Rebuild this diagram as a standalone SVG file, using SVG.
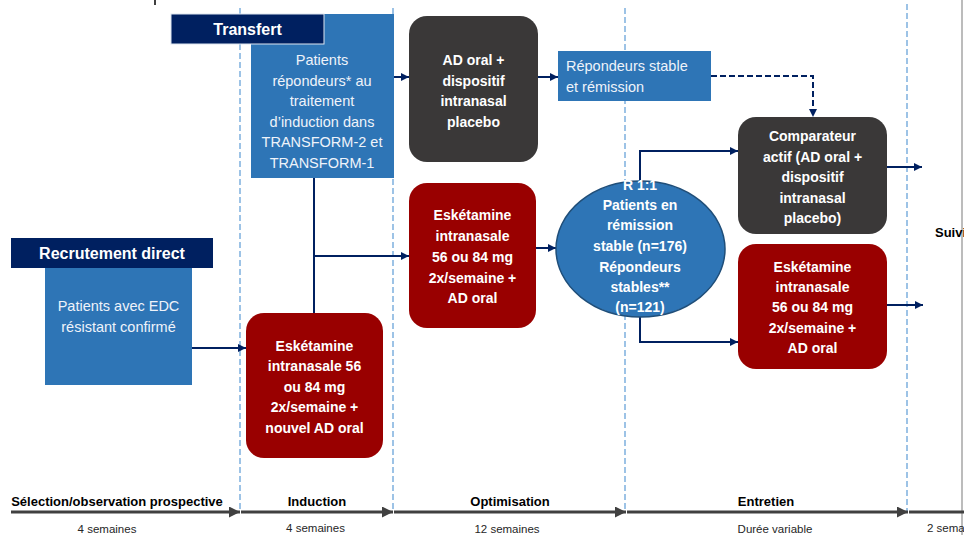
<svg xmlns="http://www.w3.org/2000/svg" width="964" height="535" viewBox="0 0 964 535">
<defs>
<style>
.vd{stroke:#9dc3e6;stroke-width:2;stroke-dasharray:6 3;fill:none}
.blue{fill:#2e75b6}
.navy{fill:#002060}
.red{fill:#990000}
.grey{fill:#3a3838}
.tn{font-family:"Liberation Sans",Arial,sans-serif;font-size:14.5px;fill:#eef3fa}
.tb{font-family:"Liberation Sans",Arial,sans-serif;font-size:14px;font-weight:bold;fill:#ffffff;text-anchor:middle}
.th{font-family:"Liberation Sans",Arial,sans-serif;font-size:16px;font-weight:bold;fill:#ffffff;text-anchor:middle}
.tl{font-family:"Liberation Sans",Arial,sans-serif;font-size:13px;font-weight:bold;fill:#000000;text-anchor:middle}
.ts{font-family:"Liberation Sans",Arial,sans-serif;font-size:11.5px;fill:#262626;text-anchor:middle}
.c{stroke:#002060;stroke-width:2;fill:none}
.tlx{stroke:#404040;stroke-width:3;fill:none}
</style>
<marker id="ah" viewBox="0 0 10 10" refX="10" refY="5" markerWidth="9" markerHeight="8" markerUnits="userSpaceOnUse" orient="auto">
<path d="M0,0 L10,5 L0,10 Z" fill="#002060"/>
</marker>
<marker id="tah" viewBox="0 0 10 10" refX="10" refY="5" markerWidth="11" markerHeight="11" markerUnits="userSpaceOnUse" orient="auto">
<path d="M0,0 L10,5 L0,10 Z" fill="#404040"/>
</marker>
</defs>
<rect width="964" height="535" fill="#ffffff"/>
<line x1="155" y1="0" x2="155" y2="5" stroke="#000" stroke-width="1.5"/>
<line x1="962" y1="0" x2="962" y2="535" stroke="#a6a6a6" stroke-width="1.5"/>

<g id="phase-lines">
<line class="vd" x1="240" y1="8" x2="240" y2="512"/>
<line class="vd" x1="393" y1="8" x2="393" y2="512"/>
<line class="vd" x1="625" y1="8" x2="625" y2="512"/>
<line class="vd" x1="907" y1="4" x2="907" y2="512"/>
</g>

<g id="connectors">
<line class="c" x1="394" y1="77" x2="409" y2="77" marker-end="url(#ah)"/>
<line class="c" x1="538" y1="77" x2="558" y2="77" marker-end="url(#ah)"/>
<polyline class="c" points="711,76 813,76 813,117" stroke-dasharray="6 3" marker-end="url(#ah)"/>
<line class="c" x1="314" y1="178" x2="314" y2="313"/>
<line class="c" x1="314" y1="256" x2="409" y2="256" marker-end="url(#ah)"/>
<line class="c" x1="192" y1="348" x2="246" y2="348" marker-end="url(#ah)"/>
<line class="c" x1="536" y1="248" x2="556" y2="248" marker-end="url(#ah)"/>
<polyline class="c" points="640,181 640,151 738,151" marker-end="url(#ah)"/>
<polyline class="c" points="640,317 640,342 738,342" marker-end="url(#ah)"/>
<line class="c" x1="887" y1="167" x2="922" y2="167" marker-end="url(#ah)"/>
<line class="c" x1="887" y1="305" x2="923" y2="305" marker-end="url(#ah)"/>
</g>

<g id="transfert-box">
<rect class="blue" x="251" y="14" width="143" height="164"/>
<text class="tn" text-anchor="middle" x="322" y="65">Patients</text>
<text class="tn" text-anchor="middle" x="322" y="86">répondeurs* au</text>
<text class="tn" text-anchor="middle" x="322" y="106">traitement</text>
<text class="tn" text-anchor="middle" x="322" y="127">d’induction dans</text>
<text class="tn" text-anchor="middle" x="322" y="147">TRANSFORM-2 et</text>
<text class="tn" text-anchor="middle" x="322" y="168">TRANSFORM-1</text>
</g>
<g id="transfert-header">
<rect class="navy" x="171" y="14" width="153" height="30" stroke="#dde6f0" stroke-width="1"/>
<text class="th" x="247.5" y="35">Transfert</text>
</g>

<g id="recrutement-header">
<rect class="navy" x="11" y="238" width="202" height="30"/>
<text class="th" x="112" y="259">Recrutement direct</text>
</g>
<g id="recrutement-box">
<rect class="blue" x="45" y="268" width="147" height="117"/>
<text class="tn" text-anchor="middle" x="118.5" y="311">Patients avec EDC</text>
<text class="tn" text-anchor="middle" x="118.5" y="332">résistant confirmé</text>
</g>

<g id="induction-esketamine">
<rect class="red" x="246" y="313" width="137" height="145" rx="18"/>
<text class="tb" x="314.5" y="351">Eskétamine</text>
<text class="tb" x="314.5" y="371">intranasale 56</text>
<text class="tb" x="314.5" y="392">ou 84 mg</text>
<text class="tb" x="314.5" y="412">2x/semaine +</text>
<text class="tb" x="314.5" y="433">nouvel AD oral</text>
</g>

<g id="ad-oral-placebo">
<rect class="grey" x="409" y="16" width="129" height="146" rx="18"/>
<text class="tb" x="473.5" y="65">AD oral +</text>
<text class="tb" x="473.5" y="85.5">dispositif</text>
<text class="tb" x="473.5" y="106">intranasal</text>
<text class="tb" x="473.5" y="126.5">placebo</text>
</g>

<g id="optim-esketamine">
<rect class="red" x="409" y="183" width="127" height="145" rx="18"/>
<text class="tb" x="472.5" y="220">Eskétamine</text>
<text class="tb" x="472.5" y="241">intranasale</text>
<text class="tb" x="472.5" y="262">56 ou 84 mg</text>
<text class="tb" x="472.5" y="283">2x/semaine +</text>
<text class="tb" x="472.5" y="303">AD oral</text>
</g>

<g id="repondeurs-stable">
<rect class="blue" x="558" y="51" width="153" height="50"/>
<text class="tn" x="566" y="71">Répondeurs stable</text>
<text class="tn" x="566" y="92">et rémission</text>
</g>

<g id="randomisation">
<ellipse cx="640.5" cy="249" rx="84.5" ry="68" fill="#2e75b6" stroke="#1f4e79" stroke-width="1.5"/>
<text class="tb" x="640" y="190">R 1:1</text>
<text class="tb" x="640" y="210">Patients en</text>
<text class="tb" x="640" y="230">rémission</text>
<text class="tb" x="640" y="251">stable (n=176)</text>
<text class="tb" x="640" y="272">Répondeurs</text>
<text class="tb" x="640" y="292">stables**</text>
<text class="tb" x="640" y="312">(n=121)</text>
</g>

<g id="comparateur">
<rect class="grey" x="738" y="117" width="149" height="117" rx="18"/>
<text class="tb" x="812.5" y="141">Comparateur</text>
<text class="tb" x="812.5" y="161.5">actif (AD oral +</text>
<text class="tb" x="812.5" y="182">dispositif</text>
<text class="tb" x="812.5" y="202.5">intranasal</text>
<text class="tb" x="812.5" y="223">placebo)</text>
</g>

<g id="entretien-esketamine">
<rect class="red" x="738" y="244" width="149" height="125" rx="18"/>
<text class="tb" x="812.5" y="272">Eskétamine</text>
<text class="tb" x="812.5" y="292">intranasale</text>
<text class="tb" x="812.5" y="312">56 ou 84 mg</text>
<text class="tb" x="812.5" y="333">2x/semaine +</text>
<text class="tb" x="812.5" y="353">AD oral</text>
</g>

<text class="tl" x="935" y="237" style="text-anchor:start">Suivi</text>

<g id="timeline">
<line class="tlx" x1="11" y1="512" x2="240" y2="512" marker-end="url(#tah)"/>
<line class="tlx" x1="241" y1="512" x2="393" y2="512" marker-end="url(#tah)"/>
<line class="tlx" x1="394" y1="512" x2="626" y2="512" marker-end="url(#tah)"/>
<line class="tlx" x1="627" y1="512" x2="908" y2="512" marker-end="url(#tah)"/>
<line class="tlx" x1="909" y1="512" x2="964" y2="512"/>
<text class="tl" x="117" y="505.5">Sélection/observation prospective</text>
<text class="tl" x="317" y="505.5">Induction</text>
<text class="tl" x="510" y="505.5">Optimisation</text>
<text class="tl" x="766" y="505.5">Entretien</text>
<text class="ts" x="107" y="533">4 semaines</text>
<text class="ts" x="315.5" y="532">4 semaines</text>
<text class="ts" x="507" y="533">12 semaines</text>
<text class="ts" x="775" y="533">Durée variable</text>
<text class="ts" x="927" y="532" style="text-anchor:start">2 semaines</text>
</g>
</svg>
